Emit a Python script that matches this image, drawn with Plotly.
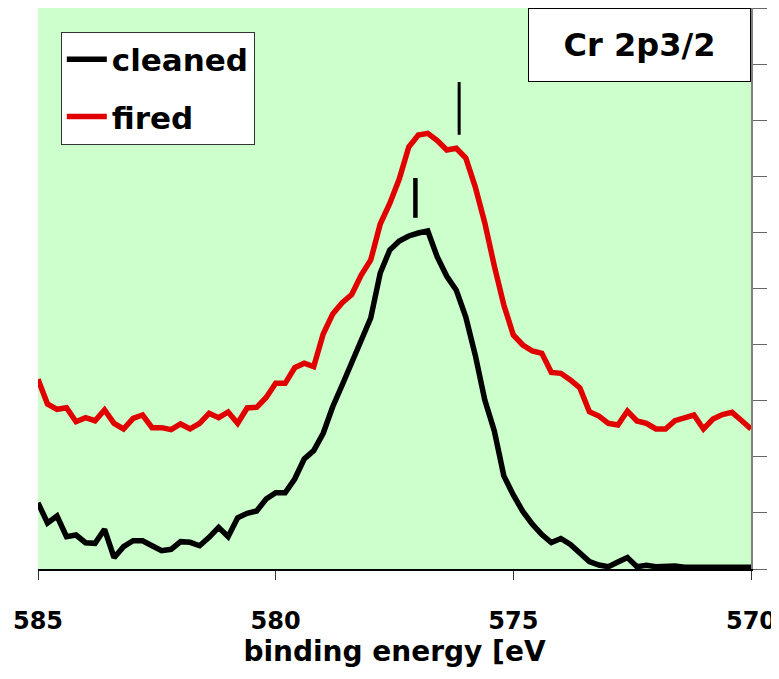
import plotly.graph_objects as go

# binding energy grid: 585 -> 570 eV in 0.2 eV steps (76 points)
energy = [round(585 - 0.2 * i, 1) for i in range(76)]

cleaned = [1.18, 0.82, 0.945, 0.576, 0.606, 0.469, 0.458, 0.708, 0.201, 0.398,
           0.504, 0.504, 0.415, 0.326, 0.351, 0.487, 0.476, 0.415, 0.565, 0.743,
           0.576, 0.914, 0.993, 1.034, 1.248, 1.36, 1.36, 1.604, 1.961, 2.109,
           2.419, 2.893, 3.28, 3.672, 4.064, 4.474, 5.276, 5.686, 5.847, 5.936,
           5.989, 6.025, 5.561, 5.217, 4.97, 4.49, 3.81, 3.01, 2.46, 1.66,
           1.32, 1.025, 0.80, 0.615, 0.472, 0.544, 0.437, 0.294, 0.134, 0.071,
           0.041, 0.125, 0.205, 0.041, 0.066, 0.041, 0.048, 0.053, 0.03, 0.03,
           0.04, 0.03, 0.03, 0.03, 0.03, 0.03]

fired = [3.381, 2.941, 2.847, 2.875, 2.626, 2.697, 2.643, 2.834, 2.597, 2.496,
         2.686, 2.745, 2.519, 2.519, 2.483, 2.585, 2.496, 2.597, 2.775, 2.697,
         2.799, 2.597, 2.87, 2.882, 3.057, 3.31, 3.31, 3.588, 3.667, 3.606,
         4.189, 4.545, 4.747, 4.893, 5.241, 5.508, 6.15, 6.515, 6.952, 7.522,
         7.736, 7.766, 7.638, 7.469, 7.499, 7.326, 6.809, 6.168, 5.401, 4.706,
         4.171, 3.993, 3.886, 3.845, 3.503, 3.488, 3.369, 3.226, 2.802, 2.727,
         2.597, 2.567, 2.816, 2.638, 2.597, 2.496, 2.496, 2.643, 2.692, 2.745,
         2.496, 2.674, 2.754, 2.793, 2.647, 2.496]

# peak position markers (vertical bars)
peak_cleaned_x = [577.06, 577.06]
peak_cleaned_y = [6.26, 6.97]
peak_fired_x = [576.14, 576.14]
peak_fired_y = [7.74, 8.68]

x_ticks = [585, 580, 575, 570]
x_tick_text = ["585", "580", "575", "570"]

FONT = "Comic Sans MS, DejaVu Sans, sans-serif"
RED = "#E00000"

fig = go.Figure()
fig.add_trace(go.Scatter(x=energy, y=cleaned, mode="lines", name="cleaned",
                         line=dict(color="black", width=5.5), legendgroup="a"))
fig.add_trace(go.Scatter(x=energy, y=fired, mode="lines", name="fired",
                         line=dict(color=RED, width=5.5), legendgroup="b"))
fig.add_trace(go.Scatter(x=peak_cleaned_x, y=peak_cleaned_y, mode="lines",
                         line=dict(color="black", width=4.5), showlegend=False,
                         hoverinfo="skip"))
fig.add_trace(go.Scatter(x=peak_fired_x, y=peak_fired_y, mode="lines",
                         line=dict(color="black", width=3), showlegend=False,
                         hoverinfo="skip"))

fig.update_layout(
    width=771, height=671,
    margin=dict(l=30, r=28, t=0, b=110, autoexpand=False),
    paper_bgcolor="white",
    plot_bgcolor="#CCFFCC",
    font=dict(family=FONT, color="black", weight="bold"),
    showlegend=True,
    legend=dict(x=0.032, y=0.958, xanchor="left", yanchor="top",
                bgcolor="white", bordercolor="#333333", borderwidth=1,
                font=dict(family=FONT, size=31, color="black", weight="bold"),
                tracegroupgap=14, itemwidth=40),
    xaxis=dict(range=[585, 570], tickvals=x_ticks, ticktext=x_tick_text,
               ticks="outside", ticklen=9, tickcolor="#333333", tickwidth=1,
               showgrid=False, zeroline=False, automargin=False,
               showline=True, linecolor="black", linewidth=1.5,
               tickfont=dict(family=FONT, size=24, color="black", weight="bold"),
               ticklabelstandoff=20,
               title=dict(text="binding energy [eV", standoff=4,
                          font=dict(family=FONT, size=28, color="black", weight="bold"))),
    yaxis=dict(range=[0, 10], dtick=1, side="right", showticklabels=False,
               ticks="outside", ticklen=14, tickcolor="#666666", tickwidth=1,
               showgrid=False, zeroline=False, automargin=False,
               showline=True, linecolor="#808080", linewidth=1.5),
    annotations=[dict(text="Cr 2p3/2", xref="paper", yref="paper",
                      x=1, y=1, xanchor="right", yanchor="top",
                      showarrow=False, width=219, height=70,
                      bgcolor="white", bordercolor="black", borderwidth=1,
                      font=dict(family=FONT, size=32, color="black", weight="bold"))],
)

fig.write_html("out.html")
